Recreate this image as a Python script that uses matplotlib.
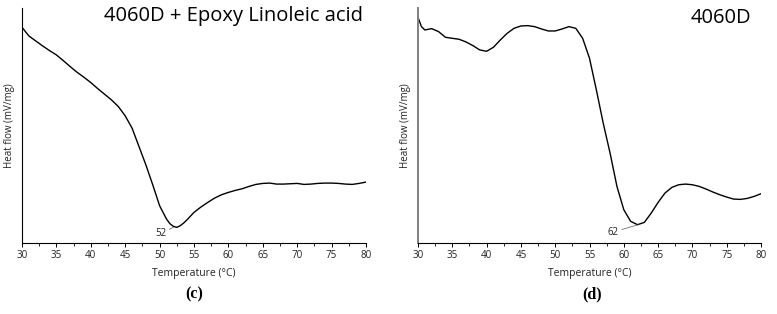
import matplotlib
matplotlib.use("Agg")
import matplotlib.pyplot as plt
from matplotlib.ticker import MultipleLocator

plt.rcParams['font.family'] = ['Open Sans', 'DejaVu Sans']

# Panel (c): 4060D + Epoxy Linoleic acid
temp_c = [30, 31, 32, 33, 34, 35, 36, 37, 38, 39, 40, 41, 42, 43, 44, 45, 46, 47, 48, 49,
          50, 51, 51.5, 52, 52.5, 53, 53.5, 54, 55, 56, 57, 58, 59, 60, 61, 62, 63, 64, 65,
          66, 67, 68, 69, 70, 71, 72, 73, 74, 75, 76, 77, 78, 79, 80]
hf_c = [6.48, 6.22, 6.07, 5.92, 5.78, 5.65, 5.48, 5.30, 5.13, 4.98, 4.82, 4.64, 4.47, 4.30,
        4.10, 3.82, 3.45, 2.90, 2.35, 1.75, 1.12, 0.72, 0.58, 0.50, 0.47, 0.52, 0.60, 0.70,
        0.92, 1.08, 1.22, 1.35, 1.45, 1.52, 1.58, 1.63, 1.70, 1.76, 1.79, 1.80, 1.77, 1.77,
        1.78, 1.79, 1.76, 1.77, 1.79, 1.80, 1.80, 1.79, 1.77, 1.76, 1.79, 1.83]

# Panel (d): 4060D
temp_d = [30, 30.5, 31, 32, 33, 34, 35, 36, 37, 38, 39, 40, 41, 42, 43, 44, 45, 46, 47, 48,
          49, 50, 51, 52, 53, 54, 55, 56, 57, 58, 59, 60, 61, 62, 63, 64, 65, 66, 67, 68,
          69, 70, 71, 72, 73, 74, 75, 76, 77, 78, 79, 80]
hf_d = [6.78, 6.50, 6.40, 6.44, 6.35, 6.18, 6.15, 6.12, 6.04, 5.93, 5.80, 5.76, 5.88, 6.10,
        6.30, 6.45, 6.52, 6.53, 6.50, 6.43, 6.37, 6.37, 6.43, 6.50, 6.45, 6.15, 5.55, 4.60,
        3.60, 2.70, 1.70, 1.00, 0.65, 0.55, 0.62, 0.90, 1.22, 1.50, 1.67, 1.75, 1.77, 1.75,
        1.70, 1.62, 1.53, 1.45, 1.38, 1.32, 1.31, 1.34, 1.40, 1.48]

xticks = [30, 35, 40, 45, 50, 55, 60, 65, 70, 75, 80]
peak_c = 52
peak_d = 62

W, H = 777, 314
fig = plt.figure(figsize=(W / 100, H / 100), dpi=100)

def make_ax(x0, x1, y0, y1):
    return fig.add_axes([x0 / W, 1 - y1 / H, (x1 - x0) / W, (y1 - y0) / H])

ax1 = make_ax(22, 366, 8, 243)
ax2 = make_ax(418, 761, 8, 243)

for ax, T, hf, spine_col, spine_lw in [(ax1, temp_c, hf_c, 'black', 0.8),
                                        (ax2, temp_d, hf_d, '#808080', 1.4)]:
    ax.plot(T, hf, color='black', lw=1.0, solid_joinstyle='round')
    ax.set_xlim(30, 80)
    ax.set_ylim(0, 7.06)
    ax.spines['top'].set_visible(False)
    ax.spines['right'].set_visible(False)
    ax.spines['left'].set_color(spine_col)
    ax.spines['left'].set_linewidth(spine_lw)
    ax.spines['bottom'].set_linewidth(0.8)
    ax.set_yticks([])
    ax.set_xticks(xticks)
    ax.set_xticklabels([str(t) for t in xticks])
    ax.xaxis.set_minor_locator(MultipleLocator(2.5))
    ax.tick_params(axis='x', which='major', length=3, width=0.7, labelsize=7, pad=2,
                   labelcolor='#222222')
    ax.tick_params(axis='x', which='minor', length=2, width=0.6)
    ax.set_xlabel('Temperature (°C)', fontsize=7.5, labelpad=5, color='#222222')
    ax.set_ylabel('Heat flow (mV/mg)', fontsize=7, labelpad=5, color='#222222')
    ax.patch.set_alpha(0)

ax1.annotate(str(peak_c), xy=(52.0, 0.47), xytext=(51.0, 0.28), fontsize=7,
             ha='right', va='center', color='#222222',
             arrowprops=dict(arrowstyle='-', lw=0.5, color='#555555',
                             shrinkA=0, shrinkB=0))
ax2.annotate(str(peak_d), xy=(62.1, 0.55), xytext=(59.3, 0.33), fontsize=7,
             ha='right', va='center', color='#222222',
             arrowprops=dict(arrowstyle='-', lw=0.5, color='#555555',
                             shrinkA=0, shrinkB=0))

fig.text(363 / W, 1 - 16 / H, '4060D + Epoxy Linoleic acid', ha='right', va='center',
         fontsize=14.5)
fig.text(751 / W, 1 - 18 / H, '4060D', ha='right', va='center', fontsize=14.5)

fig.text(194 / W, 1 - 294 / H, '(c)', ha='center', va='center', fontsize=11.5,
         family='Liberation Serif', fontweight='bold')
fig.text(592 / W, 1 - 294 / H, '(d)', ha='center', va='center', fontsize=11.5,
         family='Liberation Serif', fontweight='bold')

fig.savefig('out.png', dpi=100)
